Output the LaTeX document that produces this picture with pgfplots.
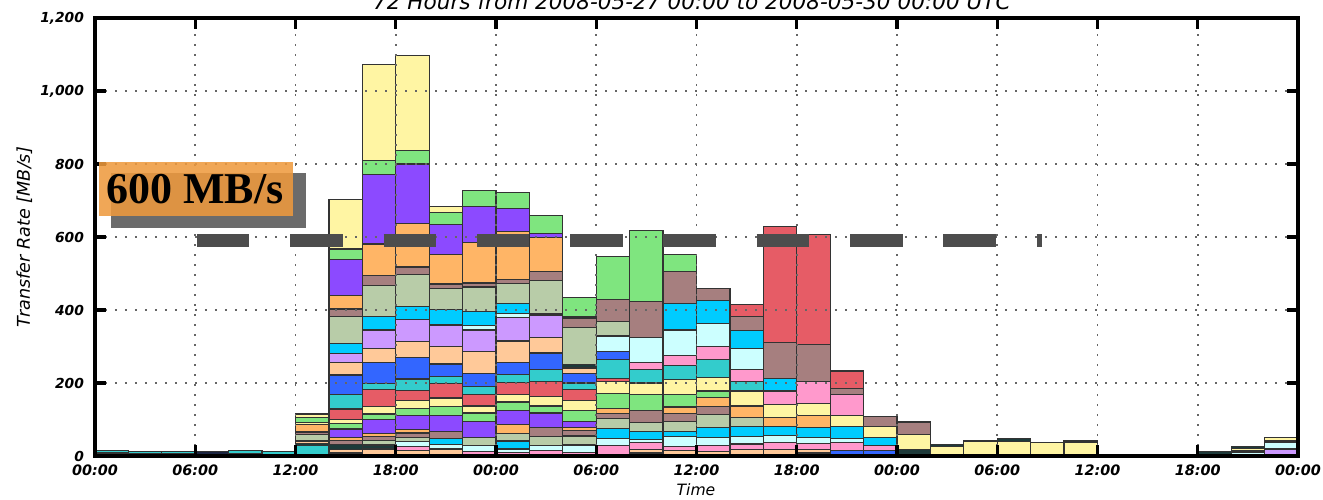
\documentclass[border=0pt]{standalone}
\usepackage{fontspec}
\setmainfont{DejaVu Sans}[ItalicFont={DejaVu Sans Oblique},BoldFont={DejaVu Sans Bold},BoldItalicFont={DejaVu Sans Bold Oblique}]
\newfontfamily\labelserif{Liberation Serif}[BoldFont={Liberation Serif Bold}]
\usepackage{pgfplots}
\usepackage{pgfplotstable}
\pgfplotsset{compat=1.18}

\definecolor{cV}{HTML}{1B2440}
\definecolor{cB}{HTML}{3366FF}
\definecolor{cD}{HTML}{1E3A3A}
\definecolor{cK}{HTML}{FFC999}
\definecolor{cT}{HTML}{33CCCC}
\definecolor{cN}{HTML}{FF99CC}
\definecolor{cW}{HTML}{CCFFFF}
\definecolor{cC}{HTML}{00CCFF}
\definecolor{cS}{HTML}{B8CCA8}
\definecolor{cM}{HTML}{A67F7F}
\definecolor{cO}{HTML}{FFB566}
\definecolor{cP}{HTML}{8C4AFF}
\definecolor{cG}{HTML}{7FE57F}
\definecolor{cY}{HTML}{FFF5A3}
\definecolor{cR}{HTML}{E65C66}
\definecolor{cL}{HTML}{CC99FF}
\definecolor{dashgray}{HTML}{4D4D4D}
\definecolor{boxorange}{HTML}{EE9A3E}
\definecolor{shadowgray}{HTML}{6B6B6B}

\colorlet{c1}{cV}\colorlet{c2}{cB}\colorlet{c3}{cD}\colorlet{c4}{cK}\colorlet{c5}{cT}
\colorlet{c6}{cD}\colorlet{c7}{cK}\colorlet{c8}{cN}\colorlet{c9}{cW}\colorlet{c10}{cD}
\colorlet{c11}{cC}\colorlet{c12}{cS}\colorlet{c13}{cM}\colorlet{c14}{cO}\colorlet{c15}{cP}
\colorlet{c16}{cG}\colorlet{c17}{cY}\colorlet{c18}{cR}\colorlet{c19}{cT}\colorlet{c20}{cB}
\colorlet{c21}{cK}\colorlet{c22}{cN}\colorlet{c23}{cL}\colorlet{c24}{cD}\colorlet{c25}{cW}
\colorlet{c26}{cC}\colorlet{c27}{cS}\colorlet{c28}{cM}\colorlet{c29}{cD}\colorlet{c30}{cO}
\colorlet{c31}{cR}\colorlet{c32}{cP}\colorlet{c33}{cG}\colorlet{c34}{cY}

% rows: 2-hour bins (x = bin centre in hours); columns: stacked layers, bottom to top (MB/s)
\pgfplotstableread{
x L1 L2 L3 L4 L5 L6 L7 L8 L9 L10 L11 L12 L13 L14 L15 L16 L17 L18 L19 L20 L21 L22 L23 L24 L25 L26 L27 L28 L29 L30 L31 L32 L33 L34
1  8 0 0 0 6 0 0 0 0 0   0 0 0 0 0 0 0 0 0 0   0 0 0 0 0 0 0 0 0 0   0 0 0 0
3  6 0 0 0 6 0 0 0 0 0   0 0 0 0 0 0 0 0 0 0   0 0 0 0 0 0 0 0 0 0   0 0 0 0
5  6 0 0 0 6 0 0 0 0 0   0 0 0 0 0 0 0 0 0 0   0 0 0 0 0 0 0 0 0 0   0 0 0 0
7  12 0 0 0 0 0 0 0 0 0  0 0 0 0 0 0 0 0 0 0   0 0 0 0 0 0 0 0 0 0   0 0 0 0
9  7 0 0 0 8 0 0 0 0 0   0 0 0 0 0 0 0 0 0 0   0 0 0 0 0 0 0 0 0 0   0 0 0 0
11 5 0 0 0 7 0 0 0 0 0   0 0 0 0 0 0 0 0 0 0   0 0 0 0 0 0 0 0 0 0   0 0 0 0
13 0 0 5 0 23 7 6 0 0 0  0 18 7 21 0 0 5 0 0 0   0 0 0 0 0 0 0 0 0 0   0 0 14 9
15 8 0 0 10 0 14 0 0 0 0  0 0 10 8 24 14 12 29 39 54   34 0 24 0 0 29 74 20 0 36   0 99 29 135
17 0 0 0 19 0 11 0 0 0 0  0 12 12 8 38 15 20 48 16 57   38 0 51 0 0 37 86 26 0 87   0 190 39 262
19 0 0 0 16 0 0 0 10 13 0  0 11 13 9 38 21 22 27 31 59   43 0 61 0 0 36 88 20 0 119   0 163 38 259
21 0 0 0 0 0 0 19 0 12 0  16 0 21 0 44 24 23 40 18 35   47 0 60 0 0 43 57 12 0 80   0 84 32 17
23 0 0 0 0 0 0 0 13 16 0  0 21 0 0 44 24 19 31 22 37   60 0 58 0 12 38 68 11 0 110   0 99 44 0
25 0 0 0 0 0 0 0 9 10 0  22 21 0 24 38 24 20 33 22 33   59 0 64 0 12 27 54 11 0 131   0 64 45 0
27 0 0 0 0 0 0 0 15 14 0  0 24 26 0 39 19 25 43 31 46   42 0 60 5 0 0 91 26 0 92   0 11 49 0
29 0 0 0 0 0 0 0 10 20 0  0 25 15 9 15 31 28 29 18 27   14 0 0 10 0 0 100 26 4 0   0 0 54 0
31 4 0 0 0 0 0 0 25 18 0  28 28 14 13 0 42 32 9 52 22   0 0 0 0 42 0 40 59 0 0   0 0 118 0
33 8 0 0 0 0 0 9 19 9 0  22 24 34 0 0 44 31 0 37 0   0 19 0 0 69 0 0 98 0 0   0 0 195 0
35 0 0 0 0 0 0 14 12 27 0  15 26 22 18 0 35 40 0 38 0   0 29 0 0 69 72 0 88 0 0   0 0 46 0
37 0 0 0 0 0 0 13 15 23 0  28 34 23 24 0 18 38 0 49 0   0 36 0 0 62 64 0 32 0 0   0 0 0 0
39 0 0 0 0 0 0 17 16 20 0  28 24 0 32 0 0 41 0 26 0   0 33 0 0 57 49 0 40 0 0   31 0 0 0
41 0 0 0 0 0 0 17 21 18 0  25 0 0 25 0 0 35 0 0 0   0 37 0 0 0 34 0 98 0 0   319 0 0 0
43 8 0 0 0 0 0 10 17 16 0  26 0 0 34 0 0 32 0 0 0   0 62 0 0 0 0 0 100 0 0   301 0 0 0
45 0 15 0 0 0 0 0 23 10 0  32 0 0 0 0 0 31 0 0 0   0 58 0 0 0 0 0 15 0 0   49 0 0 0
47 0 15 0 0 0 0 0 13 0 0  23 0 0 0 0 0 30 0 0 0   0 0 0 0 0 0 0 27 0 0   0 0 0 0
49 0 0 17 0 0 0 0 0 0 0  0 0 0 0 0 0 41 0 0 0   0 0 0 0 0 0 0 35 0 0   0 0 0 0
51 0 0 0 0 0 0 0 0 0 0  0 0 0 0 0 0 25 0 0 0   0 0 0 0 0 0 0 0 6 0   0 0 0 0
53 0 0 0 0 0 0 0 0 0 0  0 0 0 0 0 0 41 0 0 0   0 0 0 0 0 0 0 0 0 0   0 0 0 0
55 0 0 0 0 0 0 0 0 0 0  0 0 0 0 0 0 40 0 0 0   0 0 0 0 0 0 0 0 7 0   0 0 0 0
57 0 0 0 0 0 0 0 0 0 0  0 0 0 0 0 0 37 0 0 0   0 0 0 0 0 0 0 0 0 0   0 0 0 0
59 0 0 0 0 0 0 0 0 0 0  0 0 0 0 0 0 37 0 0 0   0 0 0 0 0 0 0 0 4 0   0 0 0 0
61 0 0 0 0 0 0 0 0 0 0  0 0 0 0 0 0 0 0 0 0   0 0 0 0 0 0 0 0 0 0   0 0 0 0
63 0 0 0 0 0 0 0 0 0 0  0 0 0 0 0 0 0 0 0 0   0 0 0 0 0 0 0 0 0 0   0 0 0 0
65 0 0 0 0 0 0 0 0 0 0  0 0 0 0 0 0 0 0 0 0   0 0 0 0 0 0 0 0 0 0   0 0 0 0
67 0 0 12 0 0 0 0 0 0 0  0 0 0 0 0 0 0 0 0 0   0 0 0 0 0 0 0 0 0 0   0 0 0 0
69 0 0 0 0 0 0 0 0 11 4  0 0 0 0 0 0 5 0 0 0   0 0 0 0 0 0 0 0 6 0   0 0 0 0
71 0 0 0 0 0 0 0 0 0 0  0 0 0 0 0 0 0 0 0 0   0 0 17 3 18 0 0 0 3 0   0 0 0 9
}\bars

\begin{document}
\begin{tikzpicture}
\begin{axis}[
  name=ax, at={(0pt,0pt)}, anchor=south west,
  scale only axis, width=601.5pt, height=219pt,
  xmin=0, xmax=72, ymin=0, ymax=1200,
  ybar stacked, bar width=2,
  axis on top,
  axis line style={line width=1.6pt, black},
  xtick={0,6,...,72},
  xticklabels={00:00,06:00,12:00,18:00,00:00,06:00,12:00,18:00,00:00,06:00,12:00,18:00,00:00},
  ytick={0,200,...,1200},
  yticklabels={0,200,400,600,800,{1,000},{1,200}},
  tick align=inside,
  major tick length=5.5pt,
  every tick/.style={line width=1.6pt, black},
  grid=major,
  major grid style={line width=0.9pt, black!60, dash pattern=on 1.2pt off 3.8pt},
  xticklabel style={font=\fontsize{7.2}{8}\selectfont\bfseries\itshape, yshift=-1pt},
  yticklabel style={font=\fontsize{6.9}{8}\selectfont\bfseries\itshape, xshift=-2pt},
]
\pgfplotsinvokeforeach{1,...,34}{
  \addplot[fill=c#1, draw=black!80, line width=0.6pt] table[x=x, y=L#1] {\bars};
}
\end{axis}
\begin{axis}[
  at={(0pt,0pt)}, anchor=south west,
  scale only axis, width=601.5pt, height=219pt,
  xmin=0, xmax=72, ymin=0, ymax=1200, hide axis,
]
\addplot[draw=dashgray, line width=6.5pt, dash pattern=on 26.25pt off 20.4pt, line cap=butt]
  coordinates {(6.10,590) (56.68,590)};
\end{axis}
% 600 MB/s annotation box
\fill[shadowgray] (8pt,114pt) rectangle (105.5pt,141.5pt);
\fill[boxorange, opacity=0.87] (2pt,120pt) rectangle (99pt,147pt);
\node[anchor=base west, inner sep=0pt, font=\labelserif\bfseries\fontsize{22}{24}\selectfont] at (5.5pt,126pt) {600 MB/s};
% titles and labels
\node[anchor=base, inner sep=0pt, font=\fontsize{10.8}{12}\selectfont\itshape] at (298.5pt,223pt) {72 Hours from 2008-05-27 00:00 to 2008-05-30 00:00 UTC};
\node[anchor=base, inner sep=0pt, rotate=90, font=\fontsize{8.8}{10}\selectfont\itshape] at (-32.5pt,109.5pt) {Transfer Rate [MB/s]};
\node[anchor=base, inner sep=0pt, font=\fontsize{7.8}{9}\selectfont\itshape] at (300.5pt,-19.5pt) {Time};
\pgfresetboundingbox
\path[use as bounding box] (-47.5pt,-21.5pt) rectangle (614pt,228pt);
\end{tikzpicture}
\end{document}
